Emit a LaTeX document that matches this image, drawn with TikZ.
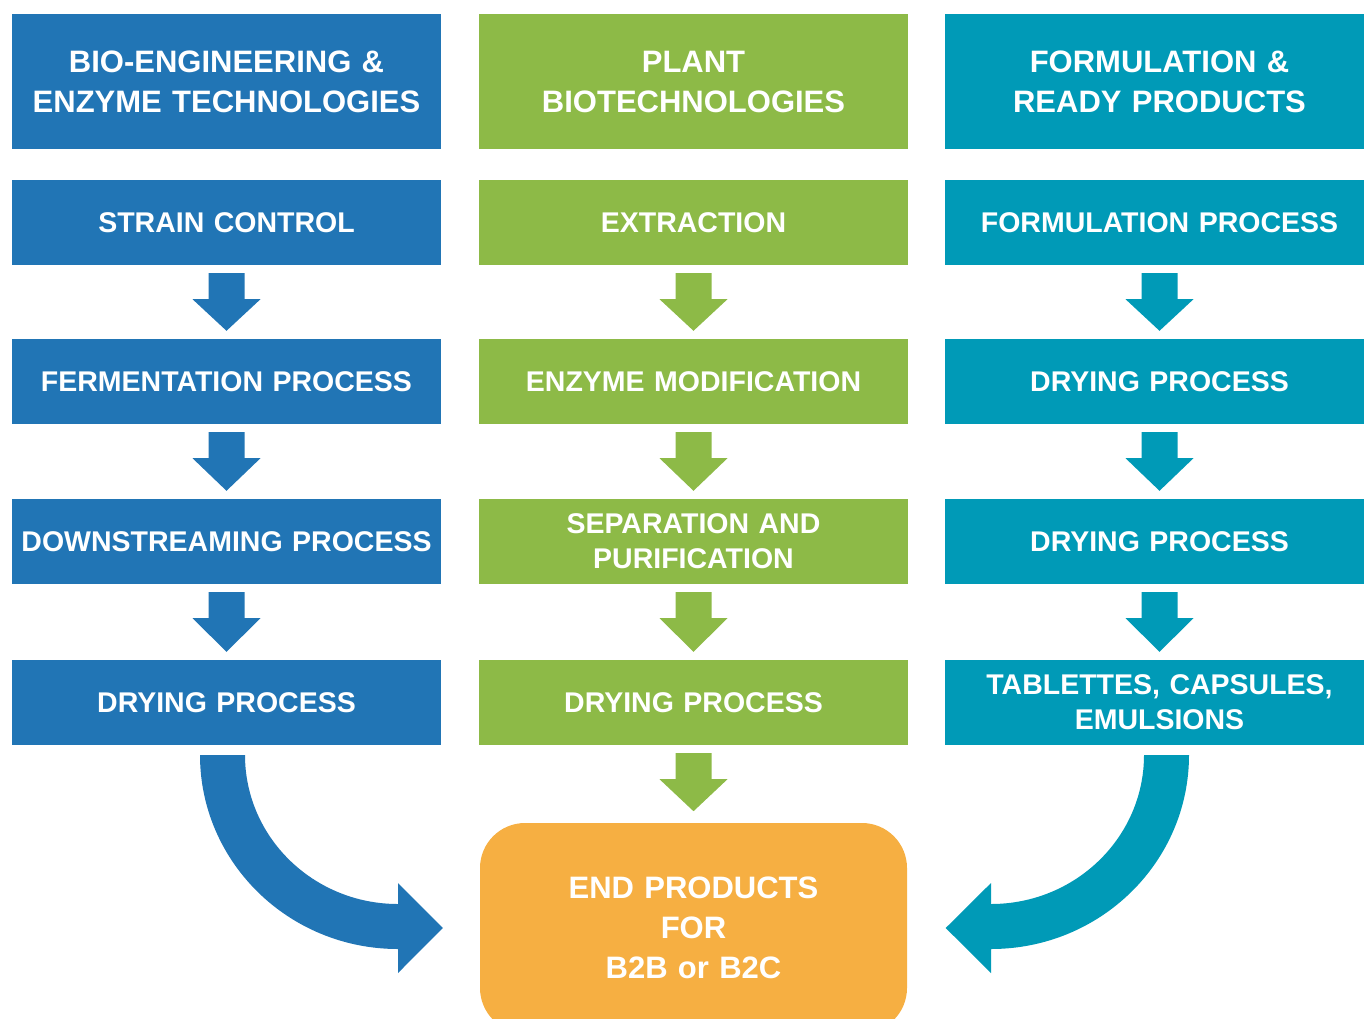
\documentclass[tikz,border=0pt]{standalone}
\usepackage{fontspec}
\setmainfont{Liberation Sans}
\usetikzlibrary{calc}
\definecolor{cblue}{HTML}{2175B5}
\definecolor{cgreen}{HTML}{8DBA47}
\definecolor{cteal}{HTML}{009AB7}
\definecolor{corange}{HTML}{F6AF42}
\newcommand\blockdown[3]{%
  \fill[#1] ($(#2.south)+(-18,8)$) -- ($(#2.south)+(18,8)$) -- ($(#2.south)+(18,34)$)
    -- ($(#2.south)+(34,34)$) -- ($(#2.south)!1!(#3.north)+(0,-8)$) -- ($(#2.south)+(-34,34)$)
    -- ($(#2.south)+(-18,34)$) -- cycle;}
\begin{document}
\begin{tikzpicture}[x=1pt,y=-1pt,
  box/.style={minimum width=429, minimum height=85, inner sep=0, text=white,
    align=center, text width=425, font=\bfseries\fontsize{28.5}{35}\selectfont},
  headbox/.style={box, minimum height=135, font=\bfseries\fontsize{31}{40}\selectfont},
  endbox/.style={fill=corange, rounded corners=45, minimum width=427, minimum height=210,
    inner sep=0, text=white, align=center, text width=420, font=\bfseries\fontsize{31}{40}\selectfont}]
\clip (0,0) rectangle (1364,1018);
% headers
\node[headbox, fill=cblue] (h1) at (226.5,81.5) {BIO-ENGINEERING \&\\ENZYME TECHNOLOGIES};
\node[headbox, fill=cgreen] (h2) at (693.5,81.5) {PLANT\\BIOTECHNOLOGIES};
\node[headbox, fill=cteal] (h3) at (1159.5,81.5) {FORMULATION \&\\READY PRODUCTS};
% column 1
\node[box, fill=cblue] (a1) at (226.5,222.5) {STRAIN CONTROL};
\node[box, fill=cblue] (a2) at (226.5,381.5) {FERMENTATION PROCESS};
\node[box, fill=cblue] (a3) at (226.5,541.5) {DOWNSTREAMING PROCESS};
\node[box, fill=cblue] (a4) at (226.5,702.5) {DRYING PROCESS};
% column 2
\node[box, fill=cgreen] (b1) at (693.5,222.5) {EXTRACTION};
\node[box, fill=cgreen] (b2) at (693.5,381.5) {ENZYME MODIFICATION};
\node[box, fill=cgreen] (b3) at (693.5,541.5) {SEPARATION AND\\PURIFICATION};
\node[box, fill=cgreen] (b4) at (693.5,702.5) {DRYING PROCESS};
% column 3
\node[box, fill=cteal] (c1) at (1159.5,222.5) {FORMULATION PROCESS};
\node[box, fill=cteal] (c2) at (1159.5,381.5) {DRYING PROCESS};
\node[box, fill=cteal] (c3) at (1159.5,541.5) {DRYING PROCESS};
\node[box, fill=cteal] (c4) at (1159.5,702.5) {TABLETTES, CAPSULES,\\EMULSIONS};
% end box
\node[endbox] (e) at (693.5,928) {END PRODUCTS\\FOR\\B2B or B2C};
% block arrows
\blockdown{cblue}{a1}{a2}
\blockdown{cblue}{a2}{a3}
\blockdown{cblue}{a3}{a4}
\blockdown{cgreen}{b1}{b2}
\blockdown{cgreen}{b2}{b3}
\blockdown{cgreen}{b3}{b4}
\blockdown{cteal}{c1}{c2}
\blockdown{cteal}{c2}{c3}
\blockdown{cteal}{c3}{c4}
\fill[cgreen] ($(b4.south)+(-18,8)$) -- ($(b4.south)+(18,8)$) -- ($(b4.south)+(18,34)$)
    -- ($(b4.south)+(34,34)$) -- ($(b4.south)+(0,66)$) -- ($(b4.south)+(-34,34)$)
    -- ($(b4.south)+(-18,34)$) -- cycle;
% curved arrows
\fill[cblue] (200,755) arc[start angle=180, end angle=90, x radius=198, y radius=194]
  -- (398,973) -- ($(e.west)+(-37,0)$) -- (398,883) -- (398,904)
  arc[start angle=90, end angle=180, x radius=153, y radius=149] -- cycle;
\fill[cteal] (1189,755) arc[start angle=0, end angle=90, x radius=198, y radius=194]
  -- (991,973) -- ($(e.east)+(38.5,0)$) -- (991,883) -- (991,904)
  arc[start angle=90, end angle=0, x radius=153, y radius=149] -- cycle;
\end{tikzpicture}
\end{document}
